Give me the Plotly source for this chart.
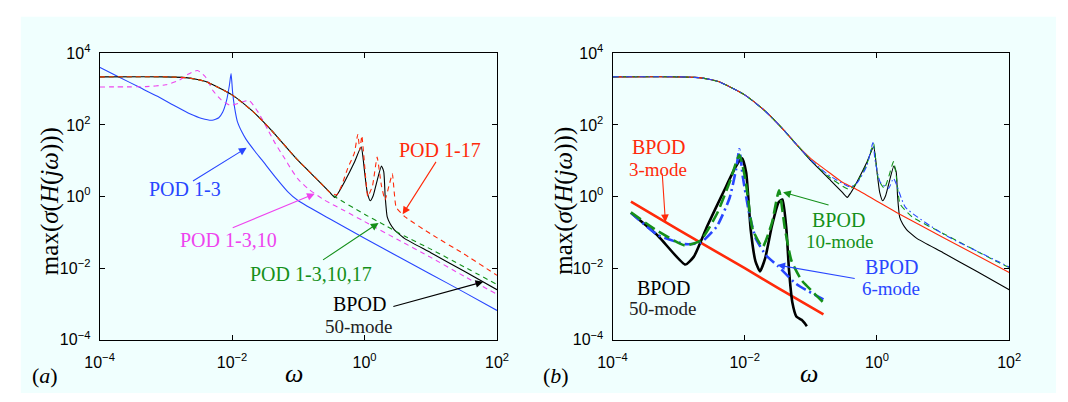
import plotly.graph_objects as go

# ---------------- data ----------------
# common low-frequency roll-off shared by the full-order responses
w_roll = [1e-4, 1e-3, 2e-3, 3e-3, 4e-3, 6e-3, 1e-2, 2e-2, 3e-2, 4e-2, 6e-2]
s_roll = [2200, 2200, 2090, 1860, 1620, 1150, 690, 250, 120, 68, 29]

# panel (a)
w_bpod50 = w_roll + [0.1, 0.2, 0.3, 0.355, 0.4, 0.5, 0.7, 0.89, 0.95, 1.0, 1.1, 1.22, 1.35, 1.5, 1.8,
                     1.95, 2.05, 2.2, 2.45, 2.8, 3.2, 4.0, 10, 31.6, 100]
s_bpod50 = s_roll + [10, 2.8, 1.3, 0.95, 1.26, 2.6, 8.9, 24.5, 12, 5.0, 1.3, 0.76, 1.05, 2.2, 7.1,
                     5.0, 1.0, 0.27, 0.17, 0.12, 0.095, 0.068, 0.027, 0.0083, 0.0025]

w_pod17b = w_roll + [0.1, 0.2, 0.3, 0.355, 1.0, 2.0, 4.0, 10, 31.6, 100]
s_pod17b = s_roll + [10, 2.8, 1.3, 1.0, 0.32, 0.16, 0.079, 0.034, 0.011, 0.0035]

w_pod17 = w_roll + [0.1, 0.2, 0.3, 0.38, 0.45, 0.56, 0.7, 0.79, 0.85, 0.91, 1.0, 1.12, 1.32, 1.55, 1.8,
                    2.04, 2.34, 2.63, 3.0, 4.0, 10, 31.6, 100]
s_pod17 = s_roll + [10, 2.8, 1.3, 1.1, 2.0, 6.3, 16, 54, 20, 50, 8, 1.0, 2.0, 12.6, 2.0,
                    0.8, 2.0, 4.3, 0.5, 0.28, 0.09, 0.025, 0.0063]

w_pod10 = [1e-4, 5e-4, 1e-3, 1.6e-3, 2.2e-3, 3e-3, 4e-3, 5.1e-3, 6.8e-3, 9.3e-3, 1.26e-2, 1.8e-2,
           2.5e-2, 3.5e-2, 4.5e-2, 6.2e-2, 0.079, 0.1, 0.14, 0.25, 0.5, 1.0, 3.16, 10, 31.6, 100]
s_pod10 = [1150, 1175, 1320, 1780, 2630, 3300, 2140, 930, 510, 355, 400, 480,
           220, 71, 30, 11.7, 5.6, 3.0, 1.66, 0.79, 0.4, 0.2, 0.063, 0.02, 0.006, 0.00186]

w_pod3 = [1e-4, 1.95e-4, 4e-4, 7.6e-4, 1.4e-3, 2.3e-3, 3.5e-3, 5e-3, 6.3e-3, 7.2e-3, 8.3e-3, 9.1e-3,
          9.66e-3, 1.02e-2, 1.1e-2, 1.2e-2, 1.41e-2, 1.62e-2, 2.24e-2, 2.82e-2, 4.47e-2, 6.9e-2,
          0.1, 0.316, 1.0, 3.16, 10, 31.6, 100]
s_pod3 = [4070, 2190, 1120, 617, 331, 204, 151, 135, 158, 224, 500, 1260,
          2700, 800, 280, 126, 63, 40, 17.8, 10.5, 3.55, 1.38,
          0.76, 0.224, 0.068, 0.0214, 0.0068, 0.00214, 0.00066]

# panel (b) full-order responses
w_b3 = w_roll + [0.1, 0.178, 0.3, 0.436, 1.0, 2.14, 10, 100]
s_b3 = s_roll + [11.5, 5.1, 2.5, 1.78, 0.74, 0.33, 0.072, 0.0076]

w_b10 = w_roll + [0.1, 0.178, 0.38, 0.5, 0.7, 0.89, 0.95, 1.05, 1.29, 1.5, 1.78, 1.95, 2.24, 3.4, 10,
                  70.8, 100]
s_b10 = s_roll + [10.5, 3.8, 1.6, 2.5, 8, 30, 12, 3.0, 1.7, 3.5, 9.5, 4, 0.62, 0.27, 0.093,
                  0.0141, 0.0105]

w_b6 = w_roll + [0.1, 0.178, 0.39, 0.5, 0.7, 0.87, 0.93, 1.12, 1.5, 1.78, 2.7, 10, 70.8, 100]
s_b6 = s_roll + [10.5, 4.2, 1.86, 2.4, 7, 32, 11, 2.5, 1.7, 3.2, 0.5, 0.09, 0.0148, 0.0107]

# panel (b) error curves
w_e3 = [1.9e-4, 1e-3, 1e-2, 3.16e-2, 0.155]
s_e3 = [0.72, 0.117, 0.01, 0.0028, 0.00051]

w_e50 = [1.9e-4, 4.9e-4, 1.26e-3, 1.7e-3, 2.7e-3, 4.8e-3, 7.4e-3, 9.1e-3, 1.05e-2, 1.23e-2, 1.45e-2,
         1.7e-2, 2.04e-2, 2.57e-2, 3.24e-2, 3.72e-2, 4.27e-2, 4.68e-2, 5.25e-2, 6.03e-2, 7.24e-2,
         7.94e-2, 8.7e-2]
s_e50 = [0.35, 0.079, 0.0126, 0.021, 0.148, 1.38, 7.1, 11.7, 4.7, 0.12, 0.0158,
         0.0081, 0.019, 0.148, 0.68, 0.83, 0.12, 0.0085, 0.0011, 0.00045, 0.00036,
         0.0003, 0.00024]

w_e10 = [1.9e-4, 4.9e-4, 1.26e-3, 2.14e-3, 3.8e-3, 5.9e-3, 8.3e-3, 1.02e-2, 1.32e-2, 1.86e-2, 2.57e-2,
         3.3e-2, 4.07e-2, 5.1e-2, 7.24e-2, 0.112, 0.155]
s_e10 = [0.36, 0.107, 0.043, 0.059, 0.33, 2.5, 14.5, 3.1, 0.12, 0.039, 0.18,
         1.5, 0.12, 0.0158, 0.0046, 0.002, 0.0011]

w_e6 = [1.9e-4, 4.9e-4, 1.26e-3, 2.14e-3, 3.8e-3, 5.9e-3, 7.4e-3, 8.3e-3, 9.3e-3, 1.17e-2, 1.48e-2,
        2.1e-2, 3.16e-2, 4.17e-2, 5.9e-2, 8.3e-2, 0.155]
s_e6 = [0.35, 0.083, 0.047, 0.051, 0.148, 0.91, 5.8, 21, 3.8, 0.33, 0.065,
        0.023, 0.0115, 0.0069, 0.0037, 0.0025, 0.00135]

x_tickvals = [1e-4, 1e-2, 1, 1e2]
x_ticktext = ["10<sup>\u22124</sup>", "10<sup>\u22122</sup>", "10<sup>0</sup>", "10<sup>2</sup>"]
y_tickvals = [1e-4, 1e-2, 1, 1e2, 1e4]
y_ticktext = ["10<sup>\u22124</sup>", "10<sup>\u22122</sup>", "10<sup>0</sup>", "10<sup>2</sup>",
              "10<sup>4</sup>"]

# ---------------- styling ----------------
RED = "#ff2a0a"
GREEN = "#15901a"
BLUE = "#2846ff"
MAG = "#ee44ee"
BLACK = "#000000"
SERIF = "Liberation Serif"
W, H = 1068, 402

fig = go.Figure()


def add(x, y, color, width, dash, xa, ya, smooth=0.6):
    fig.add_trace(go.Scatter(x=x, y=y, mode="lines", xaxis=xa, yaxis=ya, showlegend=False,
                             line=dict(color=color, width=width, dash=dash,
                                       shape="spline", smoothing=smooth)))


# panel (a)
add(w_pod3, s_pod3, BLUE, 1.1, "solid", "x", "y", 0.5)
add(w_pod10, s_pod10, MAG, 1.1, "5px,4px", "x", "y")
add(w_bpod50, s_bpod50, BLACK, 1.1, "solid", "x", "y", 0.5)
add(w_pod17b, s_pod17b, GREEN, 1.1, "5px,4px", "x", "y")
add(w_pod17, s_pod17, RED, 1.1, "5px,4px", "x", "y", 0.4)

# panel (b)
add(w_bpod50, s_bpod50, BLACK, 1.1, "solid", "x2", "y2", 0.5)
add(w_b3, s_b3, RED, 1.1, "solid", "x2", "y2")
add(w_b10, s_b10, GREEN, 1.1, "6px,4px", "x2", "y2", 0.5)
add(w_b6, s_b6, BLUE, 1.1, "6px,3px,1.5px,3px", "x2", "y2", 0.5)
add(w_e3, s_e3, RED, 2.6, "solid", "x2", "y2")
add(w_e50, s_e50, BLACK, 2.6, "solid", "x2", "y2", 0.5)
add(w_e6, s_e6, BLUE, 2.6, "11px,4px,2px,4px", "x2", "y2", 0.5)
add(w_e10, s_e10, GREEN, 2.6, "12px,5px", "x2", "y2", 0.5)

axis_common = dict(type="log", showgrid=False, zeroline=False, showline=True, linecolor="black",
                   linewidth=1, mirror="ticks", ticks="inside", ticklen=5, tickcolor="black",
                   tickfont=dict(family="Liberation Sans", size=16, color="black"))

ax_dom_a = [86.8 / W, 494.5 / W]
ax_dom_b = [613 / W, 1020 / W]
ay_dom = [(H - 346) / H, (H - 44.5) / H]

fig.update_layout(
    width=W, height=H, margin=dict(l=0, r=0, t=0, b=0),
    paper_bgcolor="white", plot_bgcolor="rgba(0,0,0,0)",
    xaxis=dict(domain=ax_dom_a, range=[-4, 2], tickvals=x_tickvals, ticktext=x_ticktext,
               anchor="y", ticklabelstandoff=8, **axis_common),
    yaxis=dict(domain=ay_dom, range=[-4, 4], tickvals=y_tickvals, ticktext=y_ticktext,
               anchor="x", ticklabelstandoff=5, **axis_common),
    xaxis2=dict(domain=ax_dom_b, range=[-4, 2], tickvals=x_tickvals, ticktext=x_ticktext,
                anchor="y2", ticklabelstandoff=8, **axis_common),
    yaxis2=dict(domain=ay_dom, range=[-4, 4], tickvals=y_tickvals, ticktext=y_ticktext,
                anchor="x2", ticklabelstandoff=5, **axis_common),
    shapes=[dict(type="rect", xref="paper", yref="paper", x0=6 / W, x1=1, y0=0, y1=1 - 6 / H,
                 fillcolor="#f0fffe", line=dict(width=0), layer="below")],
)

ann = []


def px(x, y):
    return x / W, 1 - y / H


def text(x, y, s, color, size=20, angle=0, family=SERIF):
    xx, yy = px(x, y)
    ann.append(dict(x=xx, y=yy, xref="paper", yref="paper", text=s, showarrow=False,
                    xanchor="center", yanchor="middle", textangle=angle,
                    font=dict(family=family, size=size, color=color)))


def arrow(tx, ty, hx, hy, color):
    xx, yy = px(hx, hy)
    ann.append(dict(x=xx, y=yy, xref="paper", yref="paper", text="", showarrow=True,
                    ax=tx - hx, ay=ty - hy, axref="pixel", ayref="pixel",
                    arrowhead=2, arrowsize=1.4, arrowwidth=1.1, arrowcolor=color, standoff=0))


# axis titles and panel labels
for cx in (36, 563):
    text(cx, 200, "max(<i>σ</i>(<i>H</i>(<i>jω</i>)))", "black", 25, -90)
text(286, 381, "<i>ω</i>", "black", 26)
text(815, 381, "<i>ω</i>", "black", 26)
text(31, 384, "(<i>a</i>)", "black", 22)
text(555, 384, "(<i>b</i>)", "black", 22)

# panel (a) labels
text(174, 187, "POD 1-3", BLUE)
arrow(182.5, 178, 237.6, 144, BLUE)
text(219, 241, "POD 1-3,10", MAG)
arrow(224, 227, 307.5, 192.3, MAG)
text(304, 277, "POD 1-3,10,17", GREEN)
arrow(316, 261, 373, 223, GREEN)
text(436, 146, "POD 1-17", RED)
arrow(432, 160, 397.7, 214, RED)
text(353, 308, "BPOD", BLACK)
text(353, 332, "50-mode", "#222222", 19)
arrow(389, 310, 480.4, 285, BLACK)

# panel (b) labels
text(660, 143, "BPOD", RED)
text(660, 167, "3-mode", RED, 19)
arrow(664, 172, 667.3, 222.3, RED)
text(845, 220, "BPOD", GREEN)
text(846, 243, "10-mode", GREEN, 19)
arrow(835, 204, 788, 190.7, GREEN)
text(899, 269, "BPOD", BLUE)
text(899, 292, "6-mode", BLUE, 19)
arrow(861, 281, 782.2, 267.3, BLUE)
text(665, 291, "BPOD", BLACK)
text(665, 313, "50-mode", "#222222", 19)

fig.update_layout(annotations=ann)
fig.write_html("out.html")
